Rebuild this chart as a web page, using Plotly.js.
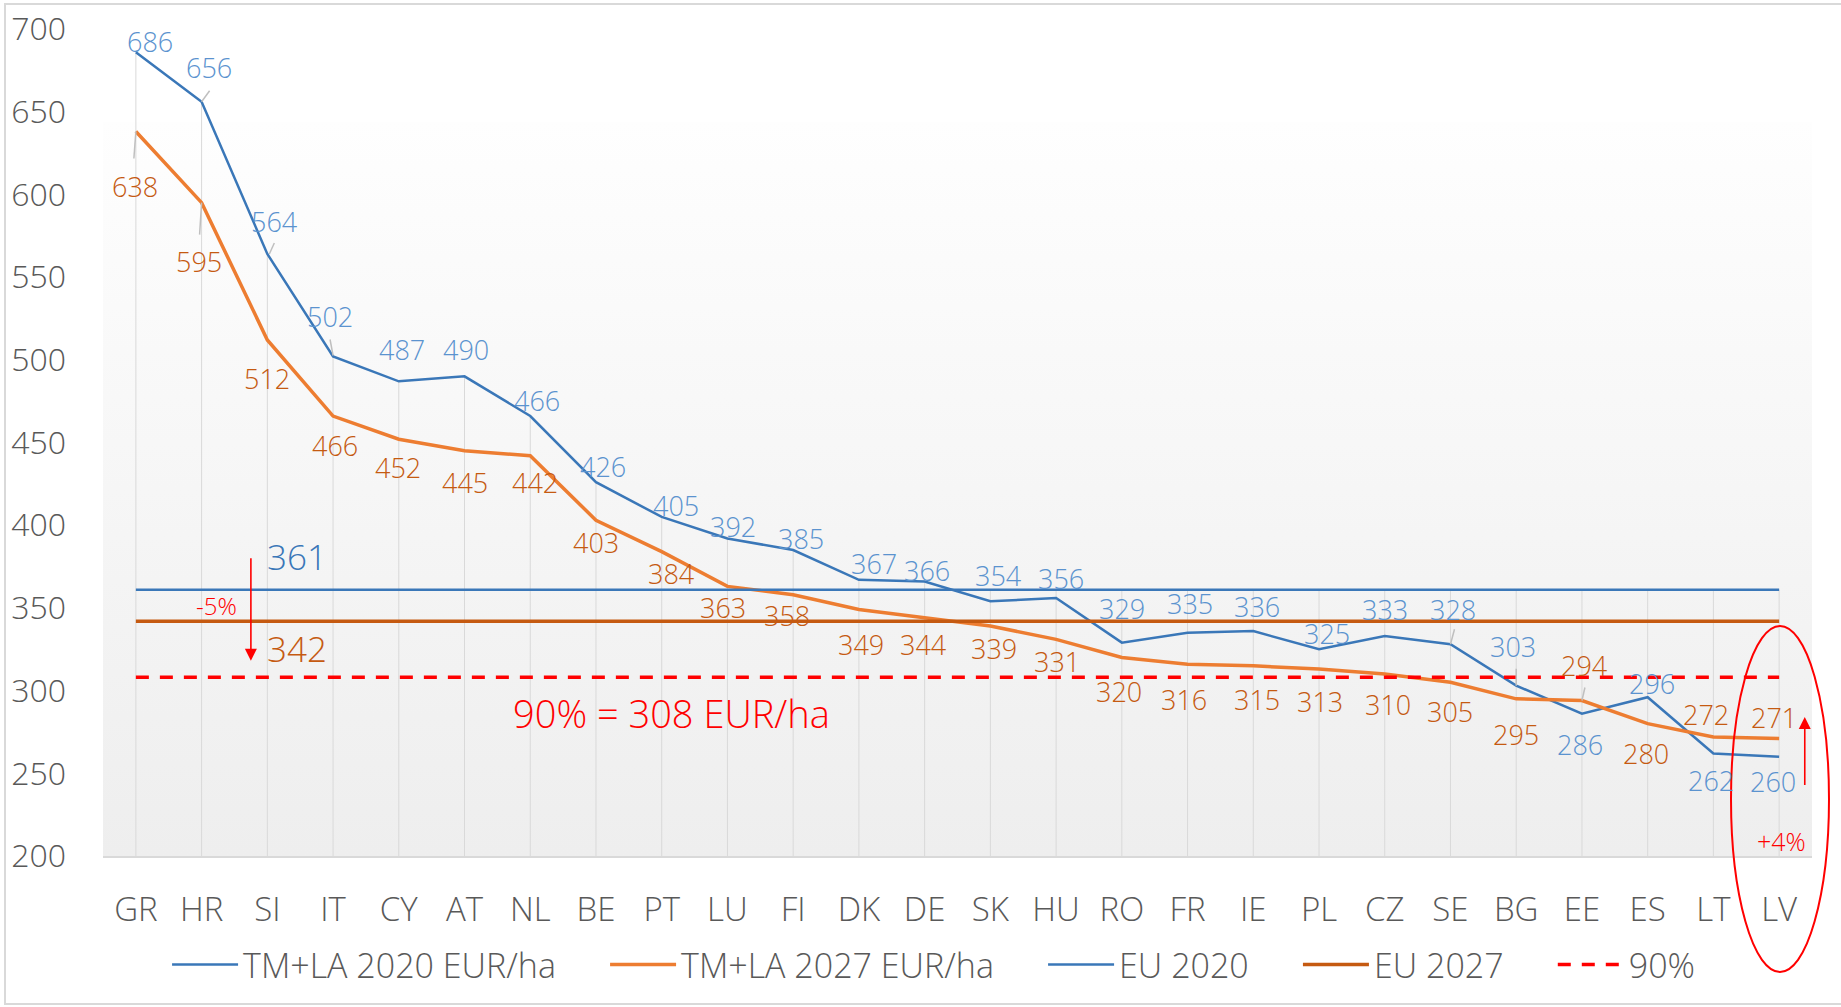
<!DOCTYPE html>
<html>
<head>
<meta charset="utf-8">
<script src="https://cdn.plot.ly/plotly-3.0.1.min.js"></script>
<style>
html,body{margin:0;padding:0;background:#fff;}
#chart{width:1841px;height:1007px;}
</style>
</head>
<body>
<div id="chart"></div>
<script>
// ---- data ----
const countries = ["GR","HR","SI","IT","CY","AT","NL","BE","PT","LU","FI","DK","DE","SK","HU","RO","FR","IE","PL","CZ","SE","BG","EE","ES","LT","LV"];
const tmla2020 = [686,656,564,502,487,490,466,426,405,392,385,367,366,354,356,329,335,336,325,333,328,303,286,296,262,260];
const tmla2027 = [638,595,512,466,452,445,442,403,384,363,358,349,344,339,331,320,316,315,313,310,305,295,294,280,272,271];
const eu2020 = 361;
const eu2027 = 342;
const pct90 = 308;
const seriesNames = ["TM+LA 2020 EUR/ha","TM+LA 2027 EUR/ha","EU 2020","EU 2027","90%"];

// ---- label offsets (layout only, px at reduced scale) ----
const S = 1.174;
const off2020 = [[12,-9],[6,-29],[6,-28],[-3,-34],[3,-27],[1,-23],[6,-13],[6,-13],[12,-10],[5,-10],[7,-10],[13,-14],[2,-9],[7,-22],[4,-17],[0,-29],[2,-25],[3,-21],[7,-13],[0,-23],[2,-30],[-3,-33],[-2,26],[4,-12],[-2,23],[-5,21]];
const off2027 = [[-1,47],[-2,50],[0,33],[2,25],[-1,24],[0,27],[4,23],[0,19],[8,19],[-4,18],[-5,18],[2,30],[-1,23],[3,19],[1,19],[-2,29],[-3,30],[3,29],[1,28],[3,26],[0,25],[0,30],[2,-30],[-1,25],[-6,-19],[-4,-18]];
// leader lines: [seriesIndex(0=2020,1=2027), category index, x0,y0,x1,y1 in px relative to point, y up]
const leaders = [[0,1,0,0,8,11],[0,2,2,0,7,11],[0,3,0,1,-3,17],[1,0,0,0,-2,-27],[1,1,0,0,-2,-32],[0,20,0,0,4,15],[0,21,0,0,0,17],[1,22,0,0,3,13]];

const xs = countries.map((c,i)=>i);
const last = countries.length-1;
const FONT = "Open Sans, Noto Sans, sans-serif";
const BLUE = "#3a77b8", ORANGE = "#ED7D31", DORANGE = "#C55A11", RED = "#FF0000";
const BLUE_LBL = "#5b93cf";

// drop lines from the highest value down to the axis
const dropX = [], dropY = [];
xs.forEach(i=>{
  dropX.push(i,i,null);
  dropY.push(Math.max(tmla2020[i], tmla2027[i], eu2020, eu2027, pct90), 200, null);
});

const pad = "\u00a0\u00a0\u00a0\u00a0\u00a0";
const traces = [
  {x: dropX, y: dropY, mode:"lines", line:{color:"#d9d9d9", width:1}, showlegend:false, hoverinfo:"skip"},
  {x: xs, y: tmla2020, name: seriesNames[0]+pad, mode:"lines", line:{color:BLUE, width:2.5}},
  {x: xs, y: tmla2027, name: seriesNames[1]+pad, mode:"lines", line:{color:ORANGE, width:3.5}},
  {x: [0,last], y: [eu2020,eu2020], name: seriesNames[2]+pad, mode:"lines", line:{color:BLUE, width:2.5}},
  {x: [0,last], y: [eu2027,eu2027], name: seriesNames[3]+pad, mode:"lines", line:{color:DORANGE, width:3.5}},
  {x: [0,last], y: [pct90,pct90], name: seriesNames[4], mode:"lines", line:{color:RED, width:3.5, dash:"13px,11px"}}
];

const annotations = [];
xs.forEach(i=>{
  annotations.push({x:i, y:tmla2020[i], text:String(tmla2020[i]), showarrow:false,
    xshift: off2020[i][0]*S, yshift: -off2020[i][1]*S,
    font:{family:FONT, size:27, color:BLUE_LBL, weight:300}});
  annotations.push({x:i, y:tmla2027[i], text:String(tmla2027[i]), showarrow:false,
    xshift: off2027[i][0]*S, yshift: -off2027[i][1]*S,
    font:{family:FONT, size:27, color:DORANGE, weight:300}});
});
// callouts
annotations.push({x:1.97, y:eu2020, text:String(eu2020), showarrow:false, xanchor:"left", yanchor:"bottom", yshift:8,
  font:{family:FONT, size:35, color:BLUE, weight:300}});
annotations.push({x:1.97, y:eu2027, text:String(eu2027), showarrow:false, xanchor:"left", yanchor:"top", yshift:-2,
  font:{family:FONT, size:35, color:DORANGE, weight:300}});
annotations.push({x:1.23, y:(eu2020+eu2027)/2, text:"-5%", showarrow:false,
  font:{family:FONT, size:24, color:RED, weight:300}});
annotations.push({x:1.75, y:318, ax:1.75, ay:381, axref:"x", ayref:"y", xref:"x", yref:"y", text:"", showarrow:true,
  arrowhead:2, arrowsize:1.5, arrowwidth:1.6, arrowcolor:RED});
annotations.push({x:8.15, y:pct90, yshift:-36, text:"90% = " + pct90 + " EUR/ha", showarrow:false,
  font:{family:FONT, size:38, color:RED, weight:300}});
annotations.push({x:25.39, y:284, ax:25.39, ay:242, axref:"x", ayref:"y", text:"", showarrow:true,
  arrowhead:2, arrowsize:1.5, arrowwidth:1.6, arrowcolor:RED});
annotations.push({x:25.04, y:209, text:"+4%", showarrow:false,
  font:{family:FONT, size:25, color:RED, weight:300}});

// pixel -> paper helpers for decorative frame/ellipse
const L = 103, R = 1812, T = 29, B = 856;
const px = v => (v - L)/(R - L);
const py = v => (B - v)/(B - T);

const svg = "<svg xmlns='http://www.w3.org/2000/svg' width='100' height='100' preserveAspectRatio='none'><defs><linearGradient id='g' x1='0' y1='0' x2='0' y2='1'><stop offset='0' stop-color='#fefefe'/><stop offset='1' stop-color='#eeeeee'/></linearGradient></defs><rect width='100' height='100' fill='url(#g)'/></svg>";

const shapes = [
  {type:"rect", xref:"paper", yref:"paper", x0:px(5), x1:px(1860), y0:py(1004), y1:py(4),
    line:{color:"#d9d9d9", width:2}, fillcolor:"rgba(0,0,0,0)", layer:"below"},
  {type:"circle", xref:"paper", yref:"paper", x0:px(1731), x1:px(1829), y0:py(972), y1:py(626),
    line:{color:RED, width:2}, fillcolor:"rgba(0,0,0,0)"}
];
leaders.forEach(l=>{
  const v = l[0]===0 ? tmla2020[l[1]] : tmla2027[l[1]];
  shapes.push({type:"line", xref:"x", yref:"y", xsizemode:"pixel", ysizemode:"pixel",
    xanchor:l[1], yanchor:v, x0:l[2], y0:l[3], x1:l[4], y1:l[5],
    line:{color:"#bfbfbf", width:1.5}});
});

const layout = {
  width:1841, height:1007,
  margin:{l:L, r:1841-R, t:T, b:1007-B, pad:0},
  paper_bgcolor:"#ffffff",
  plot_bgcolor:"rgba(0,0,0,0)",
  font:{family:FONT, color:"#595959", weight:300},
  showlegend:true,
  legend:{orientation:"h", x:0.486, xanchor:"center", y:py(965), yanchor:"middle",
    font:{family:FONT, size:34, color:"#595959", weight:300}, itemwidth:66, tracegroupgap:0,
    bgcolor:"rgba(0,0,0,0)"},
  xaxis:{range:[-0.5, last+0.5], tickmode:"array", tickvals:xs, ticktext:countries,
    showgrid:false, zeroline:false, showline:true, linecolor:"#d9d9d9", linewidth:1.5,
    ticks:"", ticklabelstandoff:24, tickfont:{family:FONT, size:33, color:"#595959", weight:300}, fixedrange:true},
  yaxis:{range:[200,700], dtick:50, tick0:200, showgrid:false, zeroline:false, showline:false,
    ticks:"", ticklabelstandoff:36, tickfont:{family:FONT, size:32, color:"#595959", weight:300}, fixedrange:true},
  images:[{source:"data:image/svg+xml;charset=utf-8," + encodeURIComponent(svg),
    xref:"paper", yref:"paper", x:0, y:py(122), sizex:1, sizey:py(122), xanchor:"left", yanchor:"top",
    sizing:"stretch", layer:"below"}],
  shapes: shapes,
  annotations: annotations
};

Plotly.newPlot("chart", traces, layout, {displayModeBar:false, staticPlot:true});
</script>
</body>
</html>
